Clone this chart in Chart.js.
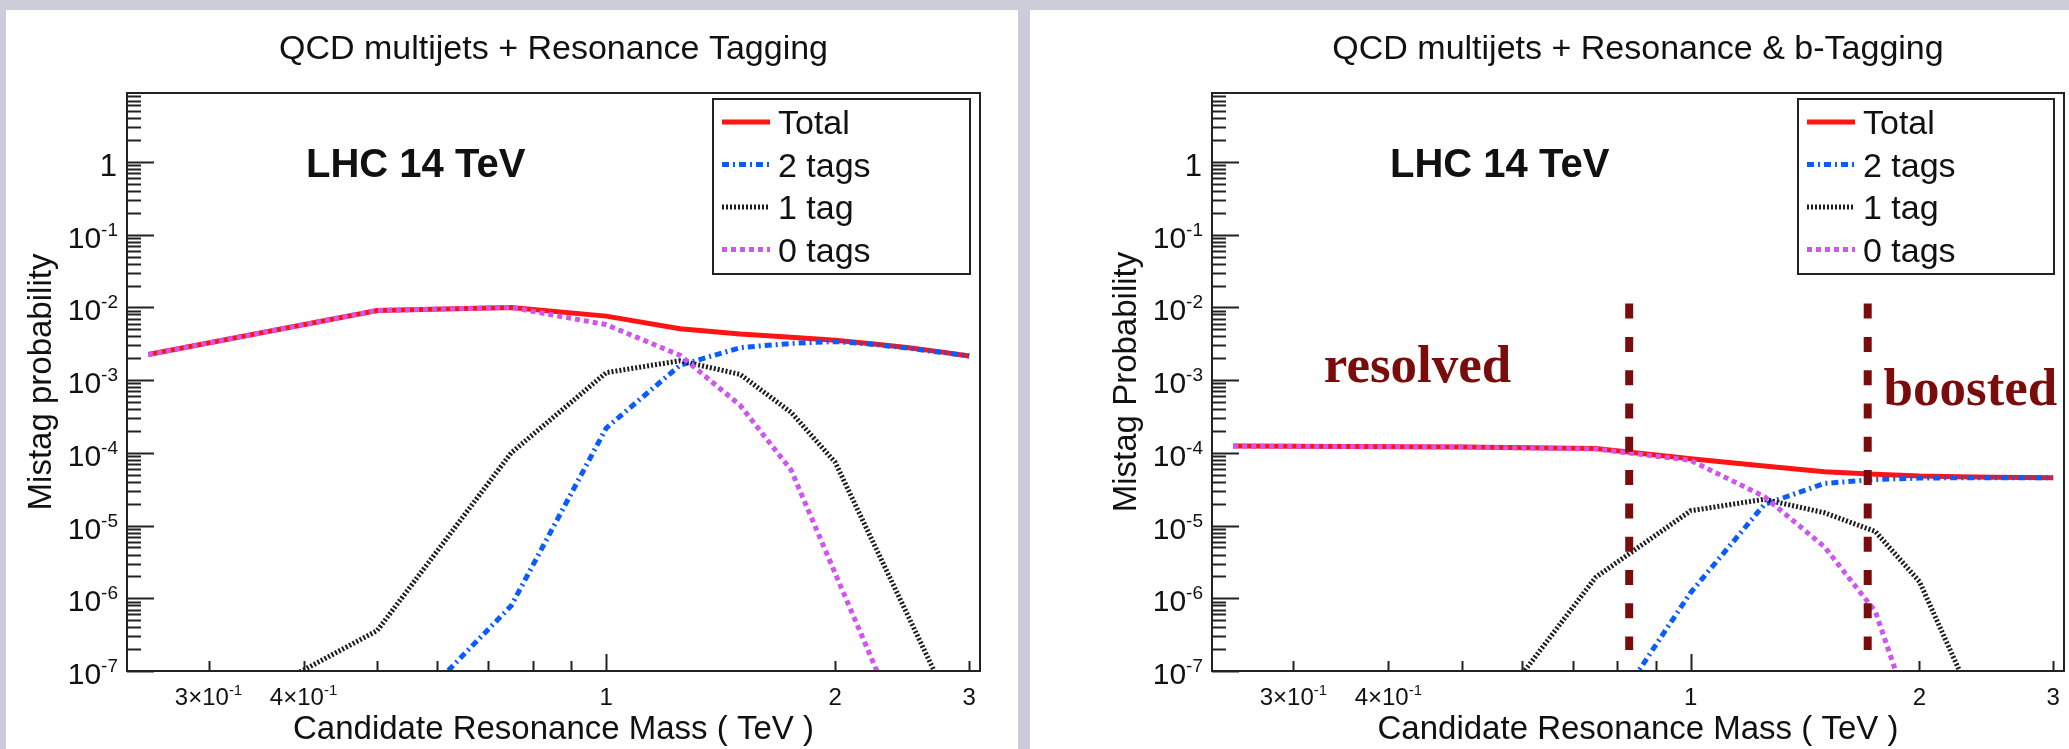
<!DOCTYPE html>
<html>
<head>
<meta charset="utf-8">
<script src="https://cdn.jsdelivr.net/npm/chart.js@4.4.1/dist/chart.umd.min.js"></script>
<style>
  body { margin: 0; width: 2069px; height: 749px; overflow: hidden; position: relative;
         background: #cbcdd9; }
  .sheet { position: absolute; top: 10px; height: 739px; background: #fff; }
  canvas { position: absolute; top: 0; }
</style>
</head>
<body>
<div class="sheet" style="left:6px; width:1012px;"></div>
<div class="sheet" style="left:1030px; width:1039px;"></div>
<canvas id="resPlot" width="1035" height="749" style="left:0"></canvas>
<canvas id="btagPlot" width="1034" height="749" style="left:1035px"></canvas>

<script>
// candidate resonance mass points (TeV)
const masses = [0.25, 0.5, 0.75, 1.0, 1.25, 1.5, 1.75, 2.0, 2.25, 2.5, 2.75, 3.0];

// mistag probability, resonance tagging only
const resTotal    = [2.25e-3, 9.1e-3, 1.0e-2, 7.6e-3, 5.1e-3, 4.3e-3, 3.9e-3, 3.55e-3, 3.15e-3, 2.8e-3, 2.45e-3, 2.15e-3];
const resTwoTags  = [null, 1.0e-8, 7.9e-7, 2.2e-4, 1.6e-3, 2.8e-3, 3.2e-3, 3.4e-3, 3.1e-3, 2.75e-3, 2.42e-3, 2.15e-3];
const resOneTag   = [7.4e-9, 3.6e-7, 1.0e-4, 1.27e-3, 1.85e-3, 1.2e-3, 3.6e-4, 7.4e-5, 5.5e-6, 5.4e-7, 6.6e-8, null];
const resZeroTags = [2.25e-3, 9.1e-3, 1.0e-2, 5.8e-3, 2.2e-3, 4.5e-4, 5.8e-5, 2.2e-6, 1.23e-7, 9.3e-9, null, null];

// mistag probability, resonance & b-tagging
const btagTotal    = [1.24e-4, 1.2e-4, 1.15e-4, 8.3e-5, 6.6e-5, 5.5e-5, 5.1e-5, 4.8e-5, 4.7e-5, 4.62e-5, 4.57e-5, 4.55e-5];
const btagTwoTags  = [null, null, 1.3e-8, 1.2e-6, 1.95e-5, 3.8e-5, 4.3e-5, 4.5e-5, 4.55e-5, 4.55e-5, 4.55e-5, 4.55e-5];
const btagOneTag   = [null, 7.4e-9, 1.95e-6, 1.6e-5, 2.3e-5, 1.5e-5, 8.3e-6, 1.7e-6, 1.1e-7, 9e-9, null, null];
const btagZeroTags = [1.24e-4, 1.2e-4, 1.13e-4, 7.9e-5, 2.5e-5, 5.1e-6, 6.6e-7, 1.1e-8, null, null, null, null];

const seriesNames = ['Total', '2 tags', '1 tag', '0 tags'];

// axis ticks and labels
const yExponents = [-7, -6, -5, -4, -3, -2, -1, 0];
const xTickValues = [0.3, 0.4, 0.5, 0.6, 0.7, 0.8, 0.9, 1, 2, 3];
const xLabelValues = [0.3, 0.4, 1, 2, 3];
const xLabelTexts = [['3\u00d710', '-1'], ['4\u00d710', '-1'], ['1', ''], ['2', ''], ['3', '']];

// resolved / boosted boundaries (TeV) and the span of the markers
const regionCuts = [0.83, 1.71];
const cutSpan = [1.95e-7, 1.13e-2];

const sans = '"Liberation Sans", Arial, Helvetica, sans-serif';
const serif = '"Liberation Serif", "Times New Roman", serif';

const lineStyles = [
  { color: '#ff1414', dash: [] },
  { color: '#0b5cff', dash: [7, 4, 2, 4] },
  { color: '#1c1c1c', dash: [2, 2] },
  { color: '#cf55ee', dash: [5, 4] },
];

function toPoints(values) {
  return masses.map((m, i) => ({ x: m, y: values[i] }));
}

function textWithExp(ctx, base, exp, xRight, baseY, size, expSize, expRise) {
  ctx.font = `${size}px ${sans}`;
  const wb = ctx.measureText(base).width;
  ctx.font = `${expSize}px ${sans}`;
  const we = exp ? ctx.measureText(exp).width : 0;
  ctx.textAlign = 'left';
  ctx.font = `${size}px ${sans}`;
  ctx.fillText(base, xRight - we - wb, baseY);
  if (exp) {
    ctx.font = `${expSize}px ${sans}`;
    ctx.fillText(exp, xRight - we, baseY - expRise);
  }
}

const rootAxes = {
  id: 'rootAxes',
  afterDatasetsDraw(chart, args, o) {
    const { ctx, chartArea: a, scales: { x, y } } = chart;
    ctx.save();
    ctx.fillStyle = '#111';
    ctx.textBaseline = 'alphabetic';

    // region markers
    if (o.regions) {
      ctx.strokeStyle = '#7a0c0c';
      ctx.lineWidth = 8;
      ctx.setLineDash([15, 18.3]);
      regionCuts.forEach(c => {
        const px = x.getPixelForValue(c);
        ctx.beginPath();
        ctx.moveTo(px, y.getPixelForValue(cutSpan[1]));
        ctx.lineTo(px, y.getPixelForValue(cutSpan[0]));
        ctx.stroke();
      });
      ctx.setLineDash([]);
      ctx.fillStyle = '#7a0c0c';
      ctx.font = `bold 53px ${serif}`;
      ctx.textAlign = 'left';
      o.regions.forEach(r => ctx.fillText(r.text, x.getPixelForValue(r.x), y.getPixelForValue(r.y)));
      ctx.fillStyle = '#111';
    }

    // frame
    ctx.strokeStyle = '#222';
    ctx.lineWidth = 2;
    ctx.strokeRect(a.left, a.top, a.right - a.left, a.bottom - a.top);

    // y ticks, pointing inwards
    ctx.beginPath();
    yExponents.forEach(e => {
      for (let k = 1; k <= 9; k++) {
        const v = k * Math.pow(10, e);
        if (v > y.max) break;
        const py = Math.round(y.getPixelForValue(v)) + 0.5;
        ctx.moveTo(a.left, py);
        ctx.lineTo(a.left + (k === 1 ? 27 : 14), py);
      }
    });
    // x ticks
    xTickValues.forEach(v => {
      const px = Math.round(x.getPixelForValue(v)) + 0.5;
      ctx.moveTo(px, a.bottom);
      ctx.lineTo(px, a.bottom - (v === 1 ? 17 : 10));
    });
    ctx.stroke();

    // y labels
    yExponents.forEach(e => {
      const py = y.getPixelForValue(Math.pow(10, e));
      if (e === 0) textWithExp(ctx, '1', '', a.left - 10, py + 14, 31, 18, 0);
      else textWithExp(ctx, '10', String(e), a.left - 9, py + 13, 30, 19, 12);
    });

    // x labels
    xLabelValues.forEach((v, i) => {
      const [base, exp] = xLabelTexts[i];
      const px = x.getPixelForValue(v);
      ctx.font = `24px ${sans}`;
      const wb = ctx.measureText(base).width;
      ctx.font = `15px ${sans}`;
      const we = exp ? ctx.measureText(exp).width : 0;
      textWithExp(ctx, base, exp, px + (wb + we) / 2, a.bottom + 34, 24, 15, 10);
    });

    // axis titles
    ctx.textAlign = 'center';
    ctx.font = `33px ${sans}`;
    ctx.fillText('Candidate Resonance Mass ( TeV )', (a.left + a.right) / 2, 739);
    ctx.save();
    ctx.translate(o.yTitleX, (a.top + a.bottom) / 2);
    ctx.rotate(-Math.PI / 2);
    ctx.fillText(o.yTitle, 0, 0);
    ctx.restore();

    // panel title
    ctx.font = `34px ${sans}`;
    ctx.fillText(o.title, (a.left + a.right) / 2, 59);

    // LHC label
    ctx.textAlign = 'left';
    ctx.font = `bold 40px ${sans}`;
    ctx.fillText('LHC 14 TeV', a.left + o.lhcOffset, 177);

    // legend box
    const L = o.legend;
    ctx.fillStyle = '#fff';
    ctx.fillRect(L.left, L.top, L.width, L.height);
    ctx.strokeStyle = '#222';
    ctx.lineWidth = 2;
    ctx.strokeRect(L.left, L.top, L.width, L.height);
    chart.data.datasets.forEach((ds, i) => {
      const rowY = L.top + 23 + i * 42.5;
      ctx.strokeStyle = ds.borderColor;
      ctx.lineWidth = ds.borderWidth;
      ctx.setLineDash(ds.borderDash || []);
      ctx.beginPath();
      ctx.moveTo(L.left + 9, rowY);
      ctx.lineTo(L.left + 57, rowY);
      ctx.stroke();
      ctx.setLineDash([]);
      ctx.fillStyle = '#111';
      ctx.font = `34px ${sans}`;
      ctx.fillText(ds.label, L.left + 65, rowY + 12);
    });

    ctx.restore();
  }
};

function makePanel(id, series, pad, extra) {
  const datasets = series.map((vals, i) => ({
    label: seriesNames[i],
    data: toPoints(vals),
    borderColor: lineStyles[i].color,
    borderDash: lineStyles[i].dash,
    borderWidth: 5,
    pointRadius: 0,
    tension: 0,
    clip: 0,
    order: series.length - i,   // Total underneath the tag curves
  }));
  return new Chart(document.getElementById(id), {
    type: 'line',
    data: { datasets },
    options: {
      responsive: false,
      animation: false,
      events: [],
      layout: { padding: pad },
      scales: {
        x: { type: 'logarithmic', min: 0.2344, max: 3.1, display: false },
        y: { type: 'logarithmic', min: 1e-7, max: 8.9, display: false },
      },
      plugins: {
        legend: { display: false },
        tooltip: { enabled: false },
        rootAxes: extra,
      },
    },
    plugins: [rootAxes],
  });
}

makePanel('resPlot', [resTotal, resTwoTags, resOneTag, resZeroTags],
  { left: 127, top: 93, right: 55, bottom: 78 },
  {
    title: 'QCD multijets + Resonance Tagging',
    yTitle: 'Mistag probability',
    yTitleX: 51,
    lhcOffset: 179,
    legend: { left: 713, top: 99, width: 257, height: 175 },
  });

makePanel('btagPlot', [btagTotal, btagTwoTags, btagOneTag, btagZeroTags],
  { left: 177, top: 93, right: 5, bottom: 78 },
  {
    title: 'QCD multijets + Resonance & b-Tagging',
    yTitle: 'Mistag Probability',
    yTitleX: 101,
    lhcOffset: 178,
    legend: { left: 763, top: 99, width: 256, height: 175 },
    regions: [
      { text: 'resolved', x: 0.329, y: 9.4e-4 },
      { text: 'boosted', x: 1.794, y: 4.5e-4 },
    ],
  });
</script>
</body>
</html>
